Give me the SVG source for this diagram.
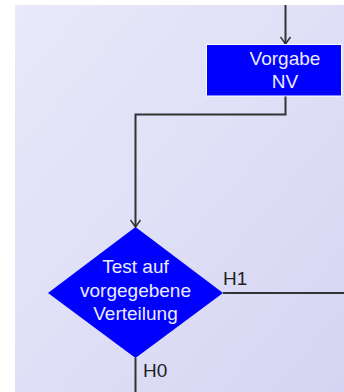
<svg xmlns="http://www.w3.org/2000/svg" width="344" height="392" viewBox="0 0 344 392">
<defs>
<linearGradient id="bg" x1="0" y1="0" x2="1" y2="1">
<stop offset="0" stop-color="#e9e9fa"/>
<stop offset="1" stop-color="#d5d5f3"/>
</linearGradient>
<marker id="arr" viewBox="0 0 12 12" refX="11" refY="6" markerWidth="12" markerHeight="12" markerUnits="userSpaceOnUse" orient="auto">
<path d="M4,1 L11,6 L4,11" fill="none" stroke="#333" stroke-width="1.5"/>
</marker>
<style>
.conn{fill:none;stroke:#333;stroke-width:2}
.node{fill:#0000ff}
.nt{font-family:"Liberation Sans",Arial,sans-serif;font-size:19px;fill:#ececff;text-anchor:middle}
.lbl{font-family:"Liberation Sans",Arial,sans-serif;font-size:19px;fill:#222}
</style>
</defs>
<rect x="0" y="0" width="344" height="392" fill="#ffffff"/>
<rect x="15" y="5" width="329" height="387" fill="url(#bg)"/>
<g id="connectors">
<path class="conn" d="M285.5,5 V44" marker-end="url(#arr)"/>
<path class="conn" d="M285.5,96 V114.5 H135.5 V227" marker-end="url(#arr)"/>
<path class="conn" d="M223,293 H344"/>
<path class="conn" d="M135.5,358 V392"/>
<text class="lbl" x="223" y="285">H1</text>
<text class="lbl" x="143" y="377">H0</text>
</g>
<g id="vorgabe">
<rect class="node" x="206.5" y="44.5" width="135" height="51.5" stroke="#ffffff" stroke-width="1"/>
<text class="nt" x="285" y="65">Vorgabe</text>
<text class="nt" x="285" y="88">NV</text>
</g>
<g id="test">
<polygon class="node" points="135.5,227 223,293 135.5,358 48,293"/>
<text class="nt" x="135.5" y="273">Test auf</text>
<text class="nt" x="135.5" y="297">vorgegebene</text>
<text class="nt" x="135.5" y="320">Verteilung</text>
</g>
</svg>
